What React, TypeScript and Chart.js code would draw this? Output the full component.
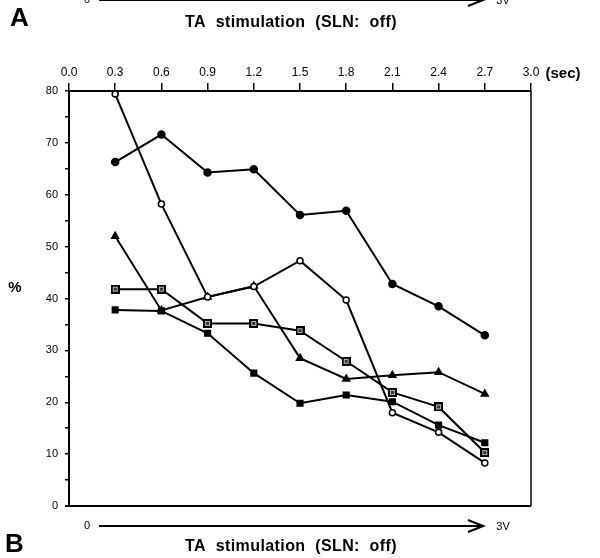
import React, { useEffect, useRef } from "react";
import { Chart, registerables } from "chart.js";

Chart.register(...registerables);

const xValues = [0.3, 0.6, 0.9, 1.2, 1.5, 1.8, 2.1, 2.4, 2.7];
const xTicks = [0.0, 0.3, 0.6, 0.9, 1.2, 1.5, 1.8, 2.1, 2.4, 2.7, 3.0];
const yTicks = [0, 5, 10, 15, 20, 25, 30, 35, 40, 45, 50, 55, 60, 65, 70, 75, 80];

const filledCircle = [66.3, 71.6, 64.3, 64.9, 56.1, 56.9, 42.8, 38.5, 32.9];
const openCircle = [79.4, 58.2, 40.3, 42.3, 47.3, 39.7, 18.0, 14.2, 8.3];
const filledTriangle = [52.0, 37.7, 40.3, 42.4, 28.5, 24.5, 25.2, 25.8, 21.6];
const filledSquare = [37.8, 37.6, 33.3, 25.6, 19.8, 21.4, 20.1, 15.6, 12.2];
const openSquare = [41.8, 41.8, 35.2, 35.2, 33.8, 27.9, 21.9, 19.1, 10.3];

const FONT = "'Liberation Sans', Arial, Helvetica, sans-serif";

function makeDottedSquare(): HTMLCanvasElement {
  const c = document.createElement("canvas");
  c.width = 9;
  c.height = 9;
  const ctx = c.getContext("2d")!;
  ctx.fillStyle = "#000";
  ctx.fillRect(0, 0, 9, 9);
  ctx.fillStyle = "#bbb";
  ctx.fillRect(2, 2, 5, 5);
  ctx.fillStyle = "#333";
  ctx.fillRect(3, 3, 3, 3);
  return c;
}

function drawArrow(ctx: CanvasRenderingContext2D, y: number) {
  ctx.save();
  ctx.strokeStyle = "#000";
  ctx.fillStyle = "#000";
  ctx.lineWidth = 2;
  ctx.beginPath();
  ctx.moveTo(99, y);
  ctx.lineTo(482, y);
  ctx.stroke();
  ctx.lineWidth = 2.2;
  ctx.beginPath();
  ctx.moveTo(468, y - 6);
  ctx.lineTo(483, y);
  ctx.lineTo(468, y + 6);
  ctx.stroke();
  ctx.font = `11px ${FONT}`;
  ctx.textAlign = "center";
  ctx.textBaseline = "middle";
  ctx.fillText("0", 87, y);
  ctx.fillText("3V", 503, y + 1);
  ctx.restore();
}

const annotations = {
  id: "annotations",
  afterDraw(chart: any) {
    const ctx = chart.ctx as CanvasRenderingContext2D;
    const a = chart.chartArea;
    ctx.save();
    ctx.strokeStyle = "#000";
    ctx.lineWidth = 1.5;
    ctx.beginPath();
    ctx.moveTo(a.right, a.top);
    ctx.lineTo(a.right, a.bottom);
    ctx.stroke();
    ctx.lineWidth = 2;
    ctx.beginPath();
    ctx.moveTo(a.left - 4, a.bottom);
    ctx.lineTo(a.right, a.bottom);
    ctx.stroke();

    drawArrow(ctx, 0);
    drawArrow(ctx, 526);

    ctx.fillStyle = "#000";
    ctx.textBaseline = "middle";
    ctx.textAlign = "center";
    ctx.font = `bold 16px ${FONT}`;
    (ctx as any).letterSpacing = "0.4px";
    ctx.fillText("TA  stimulation  (SLN:  off)", 291, 23);
    ctx.fillText("TA  stimulation  (SLN:  off)", 291, 547);
    (ctx as any).letterSpacing = "0px";
    ctx.font = `bold 15px ${FONT}`;
    ctx.fillText("(sec)", 563, 74);
    ctx.fillText("%", 15, 288);
    ctx.font = `bold 26px ${FONT}`;
    ctx.textAlign = "left";
    ctx.fillText("A", 10, 19);
    ctx.fillText("B", 5, 545);
    ctx.restore();
  },
};

export default function App() {
  const ref = useRef<HTMLCanvasElement>(null);
  useEffect(() => {
    if (!ref.current) return;
    const sq = makeDottedSquare();
    const base = {
      borderColor: "#000",
      borderWidth: 2,
      pointBorderColor: "#000",
      pointBorderWidth: 1.5,
      tension: 0,
      clip: false as any,
    };
    const chart = new Chart(ref.current, {
      type: "line",
      data: {
        datasets: [
          {
            ...base,
            label: "filled circle",
            data: xValues.map((x, i) => ({ x, y: filledCircle[i] })),
            pointStyle: "circle",
            pointRadius: 3.5,
            pointBackgroundColor: "#000",
          },
          {
            ...base,
            label: "open circle",
            data: xValues.map((x, i) => ({ x, y: openCircle[i] })),
            pointStyle: "circle",
            pointRadius: 3,
            pointBackgroundColor: "#fff",
          },
          {
            ...base,
            label: "filled triangle",
            data: xValues.map((x, i) => ({ x, y: filledTriangle[i] })),
            pointStyle: "triangle",
            pointRadius: 4,
            pointBackgroundColor: "#000",
          },
          {
            ...base,
            label: "filled square",
            data: xValues.map((x, i) => ({ x, y: filledSquare[i] })),
            pointStyle: "rect",
            pointRadius: 4,
            pointBackgroundColor: "#000",
          },
          {
            ...base,
            label: "open square",
            data: xValues.map((x, i) => ({ x, y: openSquare[i] })),
            pointStyle: sq as any,
            pointRadius: 4.5,
            pointBackgroundColor: "#fff",
          },
        ],
      },
      options: {
        responsive: false,
        animation: false,
        events: [],
        layout: { padding: { left: 0, right: 69, top: 0, bottom: 52 } },
        plugins: { legend: { display: false }, tooltip: { enabled: false } },
        scales: {
          x: {
            type: "linear",
            position: "top",
            min: 0,
            max: 3,
            afterBuildTicks: (s: any) => {
              s.ticks = xTicks.map((v) => ({ value: v }));
            },
            afterFit: (s: any) => {
              s.height = 91;
            },
            ticks: {
              color: "#000",
              font: { family: FONT, size: 12 },
              padding: 3,
              maxRotation: 0,
              autoSkip: false,
              callback: (v: any) => Number(v).toFixed(1),
            },
            grid: {
              drawOnChartArea: false,
              drawTicks: true,
              tickLength: 8,
              color: "#000",
              lineWidth: 1.5,
            },
            border: { display: true, color: "#000", width: 2 },
          },
          y: {
            type: "linear",
            min: 0,
            max: 80,
            afterBuildTicks: (s: any) => {
              s.ticks = yTicks.map((v) => ({ value: v }));
            },
            afterFit: (s: any) => {
              s.width = 69;
            },
            ticks: {
              color: "#000",
              font: { family: FONT, size: 11 },
              padding: 7,
              autoSkip: false,
              callback: (v: any) => (Number(v) % 10 === 0 ? String(v) : ""),
            },
            grid: {
              drawOnChartArea: false,
              drawTicks: true,
              tickLength: 4,
              color: "#000",
              lineWidth: 1.5,
            },
            border: { display: true, color: "#000", width: 2 },
          },
        },
      },
      plugins: [annotations],
    });
    return () => chart.destroy();
  }, []);
  return (
    <div style={{ position: "fixed", left: 0, top: 0, width: 600, height: 558, background: "#fff" }}>
      <canvas ref={ref} width={600} height={558} style={{ display: "block" }} />
    </div>
  );
}
